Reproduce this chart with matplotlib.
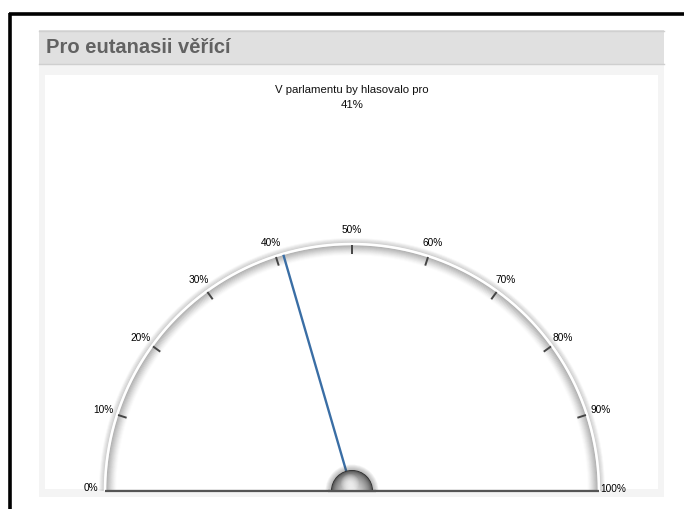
import numpy as np
import matplotlib
matplotlib.use("Agg")
import matplotlib.pyplot as plt
from matplotlib.patches import Rectangle, Wedge

# ---- data ----
header_title = "Pro eutanasii věřící"
chart_title = "V parlamentu by hlasovalo pro"
value = 41
tick_values = [0, 10, 20, 30, 40, 50, 60, 70, 80, 90, 100]
tick_labels = ["0%", "10%", "20%", "30%", "40%", "50%", "60%", "70%", "80%", "90%", "100%"]
gauge_min, gauge_max = 0, 100

W, H = 684, 509
fig = plt.figure(figsize=(W / 100, H / 100), dpi=100)
fig.patch.set_facecolor("white")
plt.rcParams['font.family'] = ['Liberation Sans', 'DejaVu Sans']

# background axes in pixel coordinates
bg = fig.add_axes([0, 0, 1, 1])
bg.set_xlim(0, W)
bg.set_ylim(H, 0)
bg.axis("off")

# outer black border (top and left)
bg.plot([9, W + 5], [14, 14], color="black", lw=2.6, solid_capstyle="butt")
bg.plot([10, 10], [13, H + 5], color="black", lw=2.6, solid_capstyle="butt")

# header band
bg.add_patch(Rectangle((39, 30), 625, 34, facecolor="#e0e0e0", edgecolor="none"))
bg.plot([39, 664], [30.5, 30.5], color="#d0d0d0", lw=1)
bg.plot([39, 664], [63.5, 63.5], color="#cfcfcf", lw=1)
bg.text(46, 47.5, header_title, fontsize=14.5, fontweight="bold", color="#626262",
        va="center", ha="left")

# panel
bg.add_patch(Rectangle((39, 64), 625, 433, facecolor="#f4f4f4", edgecolor="none"))
bg.add_patch(Rectangle((45, 75), 613, 414, facecolor="white", edgecolor="none"))

# titles
bg.text(352, 90, chart_title, fontsize=8.2, color="#111111", ha="center", va="center")
bg.text(352, 105, f"{value}%", fontsize=8.2, color="#111111", ha="center", va="center")

# gauge axes: unit radius = R px
R = 247.0
cx_px, cy_px = 352.0, 491.0
xl = (-1.3, 1.3)
yl = (-0.06, 1.2)
left = (cx_px + xl[0] * R) / W
width = (xl[1] - xl[0]) * R / W
bottom_px_from_top = cy_px - yl[0] * R
bottom = (H - bottom_px_from_top) / H
height = (yl[1] - yl[0]) * R / H
ax = fig.add_axes([left, bottom, width, height])
ax.set_xlim(*xl)
ax.set_ylim(*yl)
ax.axis("off")
ax.patch.set_alpha(0)


def ang(v):
    return np.pi * (1 - (v - gauge_min) / (gauge_max - gauge_min))


px = 1.0 / R
th = np.linspace(0, np.pi, 400)

# arc shading: inner gradient
for i in range(10):
    r = 1 - (1.5 + i) * px
    a = 0.45 * (1 - i / 10) ** 1.4
    ax.plot(np.cos(th) * r, np.sin(th) * r, color="#7a7a7a", lw=1.1, alpha=a, solid_capstyle="butt")
# outer halo
for i in range(5):
    r = 1 + (1.2 + i) * px
    a = 0.30 * (1 - i / 5)
    ax.plot(np.cos(th) * r, np.sin(th) * r, color="#8a8a8a", lw=1.1, alpha=a, solid_capstyle="butt")
# white rim
ax.plot(np.cos(th), np.sin(th), color="white", lw=1.8, solid_capstyle="butt")

# ticks and labels
for v, lab in zip(tick_values, tick_labels):
    a = ang(v)
    if 0 < v < 100:
        r0, r1 = 1 - 10 * px, 1 - 1 * px
        ax.plot([np.cos(a) * r0, np.cos(a) * r1], [np.sin(a) * r0, np.sin(a) * r1],
                color="#444444", lw=1.4, solid_capstyle="butt")
    rl = 1 + 14 * px
    dy = 2.5 * px if v in (0, 100) else 0
    ax.text(np.cos(a) * rl, np.sin(a) * rl + dy, lab,
            fontsize=7.3, color="#000000", ha="center", va="center")

# baseline
ax.plot([-1, 1], [0, 0], color="#555555", lw=1.6, solid_capstyle="butt")

# needle
na = ang(value)
ax.plot([0, np.cos(na) * (1 - 1 * px)], [0, np.sin(na) * (1 - 1 * px)],
        color="#3a6ea5", lw=1.7, solid_capstyle="butt", zorder=5)

# hub (shaded semicircle)
hr = 21 * px
for i in range(6):
    ax.add_patch(Wedge((0, 0), hr + (6 - i) * 0.9 * px, 0, 180,
                       facecolor="#505050", alpha=0.07, edgecolor="none", zorder=6))
n = 36
for i in range(n):
    f = i / (n - 1)
    r = hr * (1 - f * 0.95)
    c = min(0.88, 0.15 + 0.78 * (f ** 0.45))
    ax.add_patch(Wedge((0, 0), r, 0, 180, facecolor=(c, c, c), edgecolor="none", zorder=7))
# highlight
for i in range(8):
    rr = (9 - i) * px
    ax.add_patch(Wedge((-2 * px, 8 * px), rr, 0, 360, facecolor="white", edgecolor="none",
                       alpha=0.12, zorder=8))
ax.plot([-hr - 3 * px, hr + 3 * px], [0, 0], color="#555555", lw=1.6, solid_capstyle="butt", zorder=9)

fig.savefig("out.png", dpi=100, facecolor="white")
